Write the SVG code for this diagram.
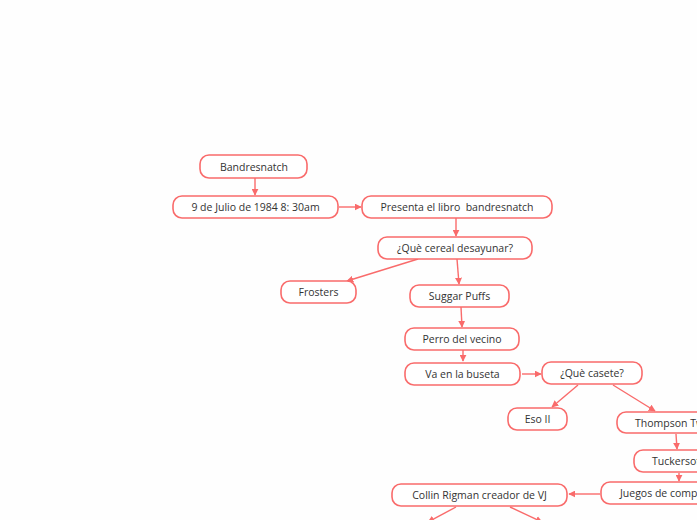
<svg xmlns="http://www.w3.org/2000/svg" width="697" height="520" viewBox="0 0 697 520">
<defs>
<marker id="ah" viewBox="0 0 10 10" refX="9" refY="5" markerWidth="7" markerHeight="7" markerUnits="userSpaceOnUse" orient="auto">
<path d="M0,0 L10,5 L0,10 z" fill="#f96b6b"/>
</marker>
<style>
.n rect{fill:#ffffff;stroke:#f96b6b;stroke-width:1.6}
.n text{font-family:"Open Sans","Noto Sans","Liberation Sans",sans-serif;font-size:10.5px;fill:#333333;text-anchor:middle;dominant-baseline:central;white-space:pre}
.n text.s{text-anchor:start}
.c line{stroke:#f96b6b;stroke-width:1.4;marker-end:url(#ah)}
</style>
</defs>
<rect width="697" height="520" fill="#fefefe"/>
<g id="connectors" class="c">
<line x1="255" y1="178" x2="255" y2="195"/>
<line x1="339" y1="207" x2="361" y2="207"/>
<line x1="456" y1="218" x2="456" y2="236"/>
<line x1="418" y1="259" x2="347" y2="281"/>
<line x1="457" y1="259" x2="459" y2="284"/>
<line x1="461" y1="307" x2="462" y2="327"/>
<line x1="463" y1="350" x2="463" y2="361"/>
<line x1="522" y1="374" x2="541" y2="374"/>
<line x1="578" y1="385" x2="552" y2="407"/>
<line x1="613" y1="385" x2="655" y2="411"/>
<line x1="676" y1="434" x2="677" y2="449"/>
<line x1="679" y1="473" x2="679" y2="481"/>
<line x1="600" y1="494" x2="569" y2="494"/>
<line x1="456" y1="507" x2="428" y2="522"/>
<line x1="510" y1="507" x2="542" y2="522"/>
</g>
<g id="n1" class="n"><rect x="200" y="155" width="107" height="23" rx="9"/><text x="254" y="167">Bandresnatch</text></g>
<g id="n2" class="n"><rect x="173" y="196" width="165" height="22" rx="9"/><text x="255.5" y="207">9 de Julio de 1984 8: 30am</text></g>
<g id="n3" class="n"><rect x="362" y="196" width="190" height="22" rx="9"/><text x="457" y="207" xml:space="preserve">Presenta el libro  bandresnatch</text></g>
<g id="n4" class="n"><rect x="378" y="237" width="154" height="22" rx="9"/><text x="455" y="248">¿Què cereal desayunar?</text></g>
<g id="n5" class="n"><rect x="281" y="281" width="75" height="22" rx="9"/><text x="318.5" y="292">Frosters</text></g>
<g id="n6" class="n"><rect x="410" y="285" width="99" height="22" rx="9"/><text x="459.5" y="296">Suggar Puffs</text></g>
<g id="n7" class="n"><rect x="405" y="328" width="114" height="22" rx="9"/><text x="462" y="339">Perro del vecino</text></g>
<g id="n8" class="n"><rect x="405" y="363" width="115" height="22" rx="9"/><text x="462.5" y="374">Va en la buseta</text></g>
<g id="n9" class="n"><rect x="542" y="362" width="100" height="22" rx="9"/><text x="592" y="373">¿Què casete?</text></g>
<g id="n10" class="n"><rect x="508" y="408" width="59" height="22" rx="9"/><text x="537.5" y="419">Eso II</text></g>
<g id="n11" class="n"><rect x="617" y="412" width="120" height="21" rx="9"/><text class="s" x="635" y="422.5">Thompson Twins</text></g>
<g id="n12" class="n"><rect x="634" y="450" width="90" height="22" rx="9"/><text class="s" x="652" y="461">Tuckersoft</text></g>
<g id="n13" class="n"><rect x="601" y="482" width="160" height="22" rx="9"/><text class="s" x="620" y="493">Juegos de computadora</text></g>
<g id="n14" class="n"><rect x="392" y="484" width="175" height="22" rx="9"/><text x="479.5" y="495">Collin Rigman creador de VJ</text></g>
</svg>
